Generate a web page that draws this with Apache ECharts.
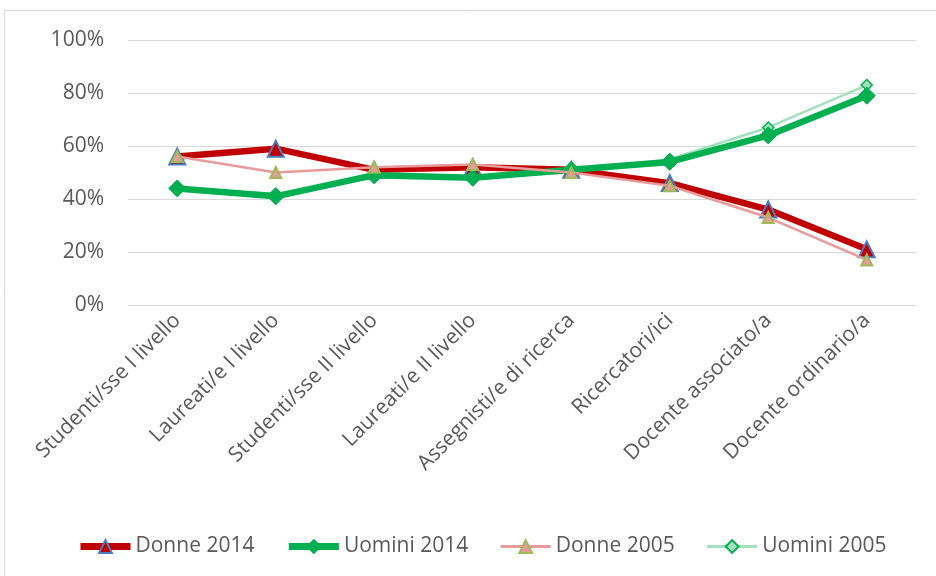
<!DOCTYPE html>
<html>
<head>
<meta charset="utf-8">
<script src="https://cdn.jsdelivr.net/npm/echarts@6/dist/echarts.min.js"></script>
<style>
  html, body { margin: 0; padding: 0; background: #fff; }
  #chart { width: 936px; height: 576px; }
</style>
</head>
<body>
<div id="chart"></div>
<script>
var categories = ['Studenti/sse I livello', 'Laureati/e I livello', 'Studenti/sse II livello',
  'Laureati/e II livello', 'Assegnisti/e di ricerca', 'Ricercatori/ici',
  'Docente associato/a', 'Docente ordinario/a'];

var donne2014 = [56, 59, 51, 52, 51, 46, 36, 21];
var uomini2014 = [44, 41, 49, 48, 51, 54, 64, 79];
var donne2005 = [56, 50, 52, 53, 50, 45, 33, 17];
var uomini2005 = [44, 42, 48, 48, 50, 55, 67, 83];

var font = 'Open Sans';
var chart = echarts.init(document.getElementById('chart'));

chart.setOption({
  animation: false,
  textStyle: { fontFamily: font },
  graphic: [{
    type: 'rect',
    shape: { x: 4.5, y: 10.5, width: 940, height: 570 },
    style: { fill: 'none', stroke: '#d9d9d9', lineWidth: 1 },
    silent: true
  }],
  grid: { left: 128, right: 20, top: 40, bottom: 271 },
  legend: {
    bottom: 14,
    left: 72,
    itemWidth: 50,
    itemHeight: 16,
    itemGap: 31,
    textStyle: { color: '#595959', fontSize: 21, fontFamily: font },
    data: [
      { name: 'Donne 2014', lineStyle: { width: 7 } },
      { name: 'Uomini 2014', lineStyle: { width: 7 } },
      { name: 'Donne 2005', lineStyle: { width: 3 } },
      { name: 'Uomini 2005', lineStyle: { width: 3 } }
    ]
  },
  xAxis: {
    type: 'category',
    data: categories,
    boundaryGap: true,
    axisLine: { show: false },
    axisTick: { show: false },
    axisLabel: {
      interval: 0,
      rotate: 45,
      margin: 12,
      color: '#595959',
      fontSize: 21,
      fontFamily: font
    }
  },
  yAxis: {
    type: 'value',
    min: 0,
    max: 100,
    interval: 20,
    axisLine: { show: false },
    axisTick: { show: false },
    splitLine: { lineStyle: { color: '#d9d9d9', width: 1 } },
    axisLabel: {
      formatter: '{value}%',
      margin: 24,
      color: '#595959',
      fontSize: 21,
      fontFamily: font
    }
  },
  series: [
    {
      name: 'Donne 2014',
      type: 'line',
      z: 3,
      data: donne2014,
      color: '#c00000',
      lineStyle: { width: 6.5, color: '#c00000' },
      symbol: 'triangle',
      symbolSize: 16,
      itemStyle: { color: '#c00000', borderColor: '#4a7ec4', borderWidth: 2 }
    },
    {
      name: 'Uomini 2014',
      type: 'line',
      z: 4,
      data: uomini2014,
      color: '#00b050',
      lineStyle: { width: 6.5, color: '#00b050' },
      symbol: 'diamond',
      symbolSize: 17,
      itemStyle: { color: '#00b050', borderColor: '#00b050', borderWidth: 1 }
    },
    {
      name: 'Donne 2005',
      type: 'line',
      z: 5,
      data: donne2005,
      color: '#e99a9a',
      lineStyle: { width: 2.5, color: '#e99a9a' },
      symbol: 'triangle',
      symbolSize: 11,
      itemStyle: { color: '#e99a9a', borderColor: '#9bbb59', borderWidth: 2 }
    },
    {
      name: 'Uomini 2005',
      type: 'line',
      z: 2,
      data: uomini2005,
      color: '#a3e0bd',
      lineStyle: { width: 2.5, color: '#a3e0bd' },
      symbol: 'diamond',
      symbolSize: 11,
      itemStyle: { color: '#a3e0bd', borderColor: '#00b050', borderWidth: 1.5 }
    }
  ]
});
</script>
</body>
</html>
